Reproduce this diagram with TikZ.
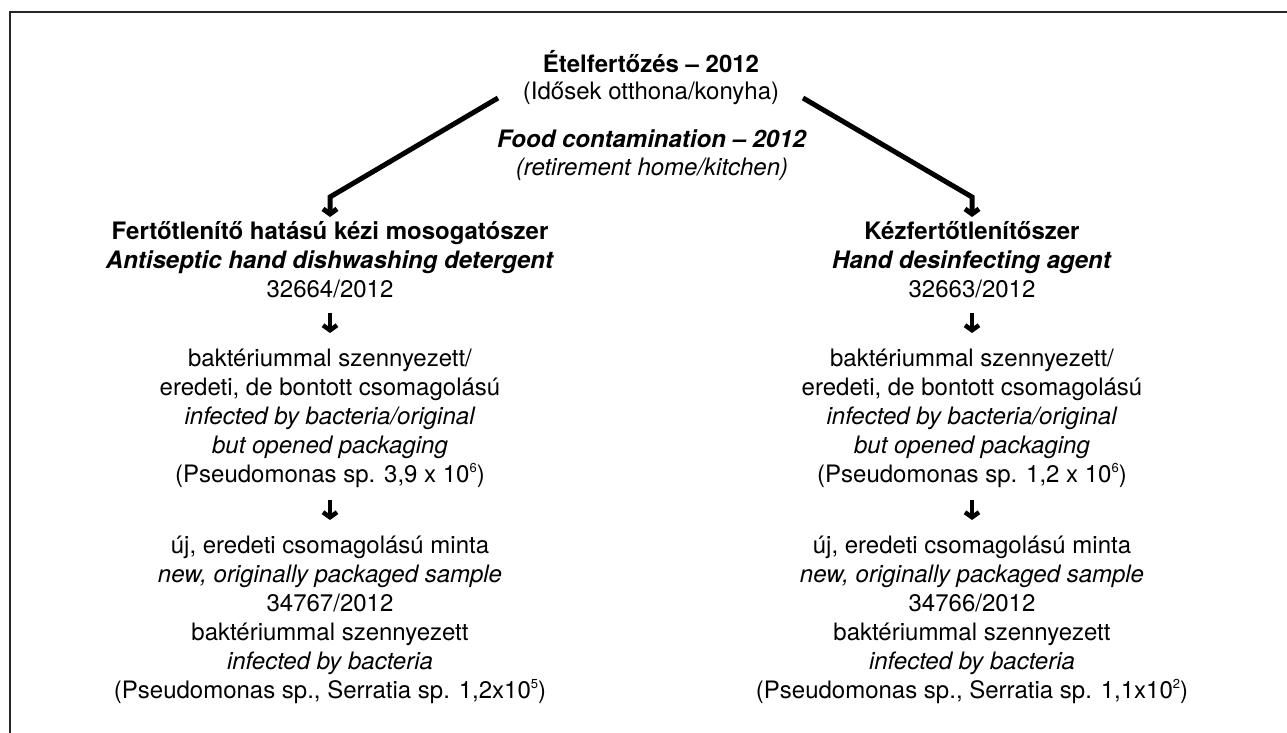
\documentclass[tikz,border=0pt]{standalone}
\usepackage{fontspec}
\setmainfont{TeX Gyre Heros}
\usetikzlibrary{arrows.meta}
\newcommand{\hatv}[1]{\raisebox{0.8ex}{\fontsize{13}{13}\selectfont #1}}
\tikzset{
  txt/.style={align=center, inner sep=0pt, anchor=north, font=\fontsize{24}{29}\selectfont},
  cimtxt/.style={txt, font=\fontsize{24}{27.5}\selectfont},
  bigarrow/.style={line width=5pt, -{Straight Barb[length=5pt,width=14pt]}},
  smallarrow/.style={line width=4.5pt, -{Straight Barb[length=5pt,width=14pt]}},
}
\begin{document}
\begin{tikzpicture}[x=1pt,y=-1pt]
    \useasboundingbox (0,0) rectangle (1287,733);
    % Keret
    \draw[line width=2pt, black!85] (10,733) -- (10,12) -- (1287,12);
    % Cim
    \node[cimtxt] (cim) at (651,50) {\textbf{Ételfertőzés – 2012}\\(Idősek otthona/konyha)};
    \node[cimtxt] (title) at (652,130) {\textbf{\textit{Food contamination – 2012}}\\\textit{(retirement home/kitchen)}};
    % Bal oldal
    \node[txt] (balA) at (330,221) {\textbf{Fertőtlenítő hatású kézi mosogatószer}\\\textbf{\textit{Antiseptic hand dishwashing detergent}}\\32664/2012};
    \node[txt] (balB) at (330,349) {baktériummal szennyezett/\\eredeti, de bontott csomagolású\\\textit{infected by bacteria/original}\\\textit{but opened packaging}\\(Pseudomonas sp. 3,9 x 10\hatv{6})};
    \node[txt] (balC) at (330,536) {új, eredeti csomagolású minta\\\textit{new, originally packaged sample}\\34767/2012\\baktériummal szennyezett\\\textit{infected by bacteria}\\(Pseudomonas sp., Serratia sp. 1,2x10\hatv{5})};
    % Jobb oldal
    \node[txt] (jobbA) at (972,221) {\textbf{Kézfertőtlenítőszer}\\\textbf{\textit{Hand desinfecting agent}}\\32663/2012};
    \node[txt] (jobbB) at (972,349) {baktériummal szennyezett/\\eredeti, de bontott csomagolású\\\textit{infected by bacteria/original}\\\textit{but opened packaging}\\(Pseudomonas sp. 1,2 x 10\hatv{6})};
    \node[txt] (jobbC) at (972,536) {új, eredeti csomagolású minta\\\textit{new, originally packaged sample}\\34766/2012\\baktériummal szennyezett\\\textit{infected by bacteria}\\(Pseudomonas sp., Serratia sp. 1,1x10\hatv{2})};
    % Nyilak
    \coordinate (balStart) at (498,98);
    \coordinate (jobbStart) at (803,98);
    \draw[bigarrow, shorten >=4pt] (balStart) -- (balA.north |- 0,197) -- (balA.north);
    \draw[bigarrow, shorten >=4pt] (jobbStart) -- (jobbA.north |- 0,197) -- (jobbA.north);
    \draw[smallarrow, shorten <=15pt, shorten >=16pt] (balA) -- (balB);
    \draw[smallarrow, shorten <=15pt, shorten >=16pt] (jobbA) -- (jobbB);
    \draw[smallarrow, shorten <=12pt, shorten >=16pt] (balB) -- (balC);
    \draw[smallarrow, shorten <=12pt, shorten >=16pt] (jobbB) -- (jobbC);
\end{tikzpicture}
\end{document}
